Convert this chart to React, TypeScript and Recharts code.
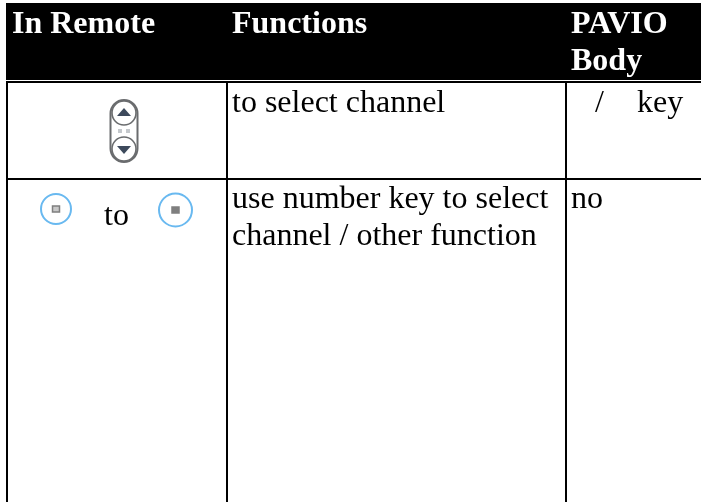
import { ComposedChart, ReferenceArea, ReferenceLine, Scatter, XAxis, YAxis } from "recharts";

const WIDTH = 701;
const HEIGHT = 502;

// table rules, in picture coordinates
const columnRules = [7, 227, 566];
const rowRules = [82, 179];
const headerBand = { x1: 6, x2: 701, y1: 3, y2: 80 };

const headerTexts = [
  { x: 12, y: 33, label: "In Remote" },
  { x: 232, y: 33, label: "Functions" },
  { x: 571, y: 33, label: "PAVIO" },
  { x: 571, y: 69.5, label: "Body" },
];

const bodyTexts = [
  { x: 232, y: 111.5, label: "to select channel" },
  { x: 595, y: 111.5, label: "/" },
  { x: 637, y: 111.5, label: "key" },
  { x: 104, y: 225, label: "to" },
  { x: 232, y: 208, label: "use number key to select" },
  { x: 232, y: 245, label: "channel / other function" },
  { x: 571, y: 208, label: "no" },
];

const rockerIcons = [{ x: 124, y: 131 }];
const roundIcons = [
  { x: 56, y: 209, r: 15, square: "open" },
  { x: 175.5, y: 210, r: 16.5, square: "solid" },
];

const fontFamily = '"Liberation Serif", "Times New Roman", serif';

function HeaderText({ cx, cy, payload }: any) {
  return (
    <text x={cx} y={cy} fill="#ffffff" fontFamily={fontFamily} fontWeight="bold" fontSize={32} filter="url(#textSoft)">
      {payload.label}
    </text>
  );
}

function BodyText({ cx, cy, payload }: any) {
  return (
    <text x={cx} y={cy} fill="#000000" fontFamily={fontFamily} fontSize={32} filter="url(#textSoft)">
      {payload.label}
    </text>
  );
}

function RockerIcon({ cx, cy }: any) {
  return (
    <g filter="url(#iconBlur)">
      <rect x={cx - 13.5} y={cy - 31} width={27} height={62} rx={13.5} fill="#ffffff" stroke="#6a6c6e" strokeWidth={2} />
      <circle cx={cx} cy={cy - 18} r={12} fill="#ffffff" stroke="#6a6c6e" strokeWidth={1.6} />
      <circle cx={cx} cy={cy + 18} r={12} fill="#ffffff" stroke="#6a6c6e" strokeWidth={1.6} />
      <path d={`M${cx - 7} ${cy - 15}L${cx + 7} ${cy - 15}L${cx} ${cy - 23}Z`} fill="#3d4a5c" />
      <path d={`M${cx - 7} ${cy + 15}L${cx + 7} ${cy + 15}L${cx} ${cy + 23}Z`} fill="#3d4a5c" />
      <rect x={cx - 6} y={cy - 2} width={4} height={4} fill="#c4c8cc" />
      <rect x={cx + 2} y={cy - 2} width={4} height={4} fill="#c4c8cc" />
    </g>
  );
}

function RoundIcon({ cx, cy, payload }: any) {
  const { r, square } = payload;
  return (
    <g filter="url(#iconBlur)">
      <circle cx={cx} cy={cy} r={r} fill="#ffffff" stroke="#69b9f0" strokeWidth={2} />
      <rect x={cx - 3.5} y={cy - 3} width={7} height={6} fill={square === "open" ? "#c8c8c8" : "#7f7f7f"} stroke="#7f7f7f" strokeWidth={1.5} />
    </g>
  );
}

export default function App() {
  return (
    <div style={{ position: "absolute", left: 0, top: 0, width: WIDTH, height: HEIGHT, background: "#ffffff" }}>
      <ComposedChart width={WIDTH} height={HEIGHT} margin={{ top: 0, right: 0, bottom: 0, left: 0 }} data={[]}>
        <defs>
          <filter id="iconBlur" x="-20%" y="-20%" width="140%" height="140%">
            <feGaussianBlur stdDeviation={0.7} />
          </filter>
          <filter id="textSoft" x="-5%" y="-20%" width="110%" height="140%">
            <feGaussianBlur stdDeviation={0.3} />
          </filter>
        </defs>
        <XAxis type="number" dataKey="x" domain={[0, WIDTH]} hide />
        <YAxis type="number" dataKey="y" domain={[0, HEIGHT]} reversed hide />
        <ReferenceArea x1={headerBand.x1} x2={headerBand.x2} y1={headerBand.y1} y2={headerBand.y2} fill="#000000" fillOpacity={1} stroke="none" />
        {columnRules.map((x) => (
          <ReferenceLine key={x} segment={[{ x, y: 81 }, { x, y: HEIGHT }]} stroke="#000000" strokeWidth={2} />
        ))}
        {rowRules.map((y) => (
          <ReferenceLine key={y} segment={[{ x: 6, y }, { x: WIDTH, y }]} stroke="#000000" strokeWidth={2} />
        ))}
        <Scatter data={headerTexts} shape={HeaderText} isAnimationActive={false} />
        <Scatter data={bodyTexts} shape={BodyText} isAnimationActive={false} />
        <Scatter data={rockerIcons} shape={RockerIcon} isAnimationActive={false} />
        <Scatter data={roundIcons} shape={RoundIcon} isAnimationActive={false} />
      </ComposedChart>
    </div>
  );
}
